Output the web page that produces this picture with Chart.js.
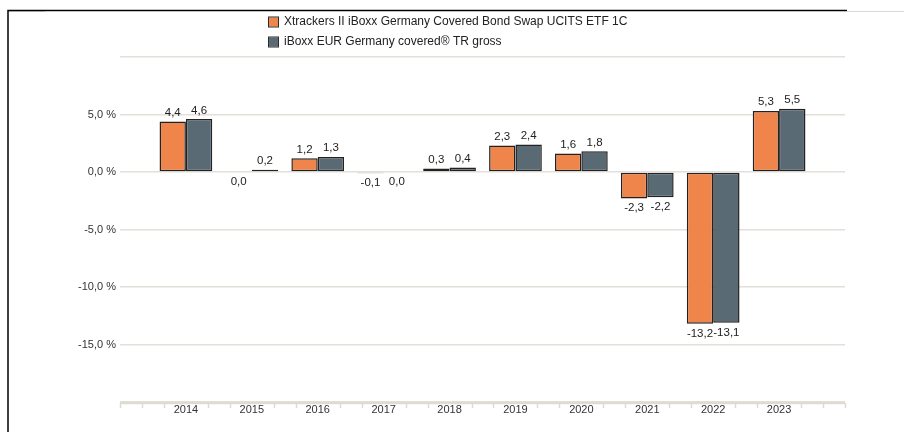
<!DOCTYPE html>
<html>
<head>
<meta charset="utf-8">
<script src="https://cdn.jsdelivr.net/npm/chart.js@4/dist/chart.umd.min.js"></script>
<style>
  html, body { margin: 0; padding: 0; background: #fff; }
  canvas { display: block; }
</style>
</head>
<body>
<canvas id="perfChart" width="904" height="432"></canvas>
<script>
const years = ["2014", "2015", "2016", "2017", "2018", "2019", "2020", "2021", "2022", "2023"];
const etfValues = [4.4, 0.0, 1.2, -0.1, 0.3, 2.3, 1.6, -2.3, -13.2, 5.3];
const indexValues = [4.6, 0.2, 1.3, 0.0, 0.4, 2.4, 1.8, -2.2, -13.1, 5.5];
const seriesNames = [
  "Xtrackers II iBoxx Germany Covered Bond Swap UCITS ETF 1C",
  "iBoxx EUR Germany covered® TR gross"
];
const yTicks = [10, 5, 0, -5, -10, -15, -20];

const orange = "#ef854a";
const slate = "#5a6a75";
const fontFamily = "'Liberation Sans', Arial, sans-serif";

// one empty slot on each side so the years sit like the original
const labels = [""].concat(years, [""]);
const pad = arr => [null].concat(arr, [null]);

const fmt = v => v.toFixed(1).replace(".", ",");

const extras = {
  id: "extras",
  afterDatasetsDraw(chart) {
    const ctx = chart.ctx;
    ctx.save();
    ctx.font = "11.5px " + fontFamily;
    ctx.fillStyle = "#222";
    ctx.textAlign = "center";
    chart.data.datasets.forEach((ds, i) => {
      const meta = chart.getDatasetMeta(i);
      meta.data.forEach((bar, j) => {
        const v = ds.data[j];
        if (v === null) return;
        if (v > 0) {
          ctx.textBaseline = "bottom";
          ctx.fillText(fmt(v), bar.x, bar.y - 3);
        } else {
          ctx.textBaseline = "top";
          ctx.fillText(fmt(v), bar.x, Math.max(bar.y, bar.base) + 4);
        }
      });
    });
    ctx.restore();
  },
  afterDraw(chart) {
    const ctx = chart.ctx;
    const area = chart.chartArea;
    const x = chart.scales.x;
    ctx.save();

    // x axis line with small ticks between the years
    ctx.strokeStyle = "#dedbd3";
    ctx.lineWidth = 2.5;
    ctx.beginPath();
    ctx.moveTo(area.left, area.bottom + 1);
    ctx.lineTo(area.right, area.bottom + 1);
    ctx.stroke();
    ctx.lineWidth = 1.5;
    for (let k = 0; k <= (labels.length - 1) * 3; k++) {
      if (k % 3 === 0 && k > 0 && k < (labels.length - 1) * 3) continue;
      const px = Math.round(x.getPixelForValue(k / 3)) + 0.5;
      ctx.beginPath();
      ctx.moveTo(px, area.bottom + 1);
      ctx.lineTo(px, area.bottom + 6);
      ctx.stroke();
    }

    // legend
    const colors = [orange, slate];
    ctx.font = "12px " + fontFamily;
    ctx.textAlign = "left";
    ctx.textBaseline = "middle";
    seriesNames.forEach((name, i) => {
      const cy = 22 + i * 20;
      ctx.fillStyle = colors[i];
      ctx.fillRect(269, cy - 4.5, 9, 9);
      ctx.strokeStyle = "#2b2b2b";
      ctx.lineWidth = 1;
      ctx.strokeRect(268.5, cy - 5, 10, 10);
      ctx.fillStyle = "#222";
      ctx.fillText(name, 284, cy);
    });

    // frame
    ctx.strokeStyle = "#d9d9d9";
    ctx.lineWidth = 1;
    ctx.beginPath();
    ctx.moveTo(8, 11.5); ctx.lineTo(45, 11.5);
    ctx.moveTo(847, 11.5); ctx.lineTo(904, 11.5);
    ctx.stroke();
    ctx.strokeStyle = "#000";
    ctx.lineWidth = 1.5;
    ctx.beginPath();
    ctx.moveTo(8, 432); ctx.lineTo(8, 10.5); ctx.lineTo(847, 10.5);
    ctx.stroke();
    ctx.restore();
  }
};

const perfCtx = document.getElementById("perfChart").getContext("2d");
const perfChart = new Chart(perfCtx, {
  type: "bar",
  data: {
    labels: labels,
    datasets: [
      {
        label: seriesNames[0],
        data: pad(etfValues),
        backgroundColor: orange,
        borderColor: "#222",
        borderWidth: 1.5,
        borderSkipped: false,
      },
      {
        label: seriesNames[1],
        data: pad(indexValues),
        backgroundColor: slate,
        borderColor: "#222",
        borderWidth: 1.5,
        borderSkipped: false,
      },
    ],
  },
  options: {
    responsive: false,
    animation: false,
    layout: { padding: { top: 57, right: 59, left: 0, bottom: 0 } },
    datasets: { bar: { categoryPercentage: 0.8, barPercentage: 1.0 } },
    plugins: { legend: { display: false }, tooltip: { enabled: false } },
    scales: {
      x: {
        offset: false,
        grid: { display: false, drawTicks: false },
        border: { display: false },
        ticks: {
          autoSkip: false,
          maxRotation: 0,
          padding: 1,
          color: "#333",
          font: { size: 11, family: fontFamily },
        },
        afterFit(scale) { scale.height = 30; },
      },
      y: {
        min: -20,
        max: 10,
        afterBuildTicks(scale) { scale.ticks = yTicks.map(v => ({ value: v })); },
        grid: { color: "#e3e0d9", lineWidth: 1.5, drawTicks: false },
        border: { display: false },
        ticks: {
          padding: 4,
          color: "#333",
          font: { size: 11, family: fontFamily },
          callback: v => (v === 10 || v === -20) ? "" : fmt(v) + " %",
        },
        afterFit(scale) { scale.width = 120; },
      },
    },
  },
  plugins: [extras],
});
</script>
</body>
</html>
